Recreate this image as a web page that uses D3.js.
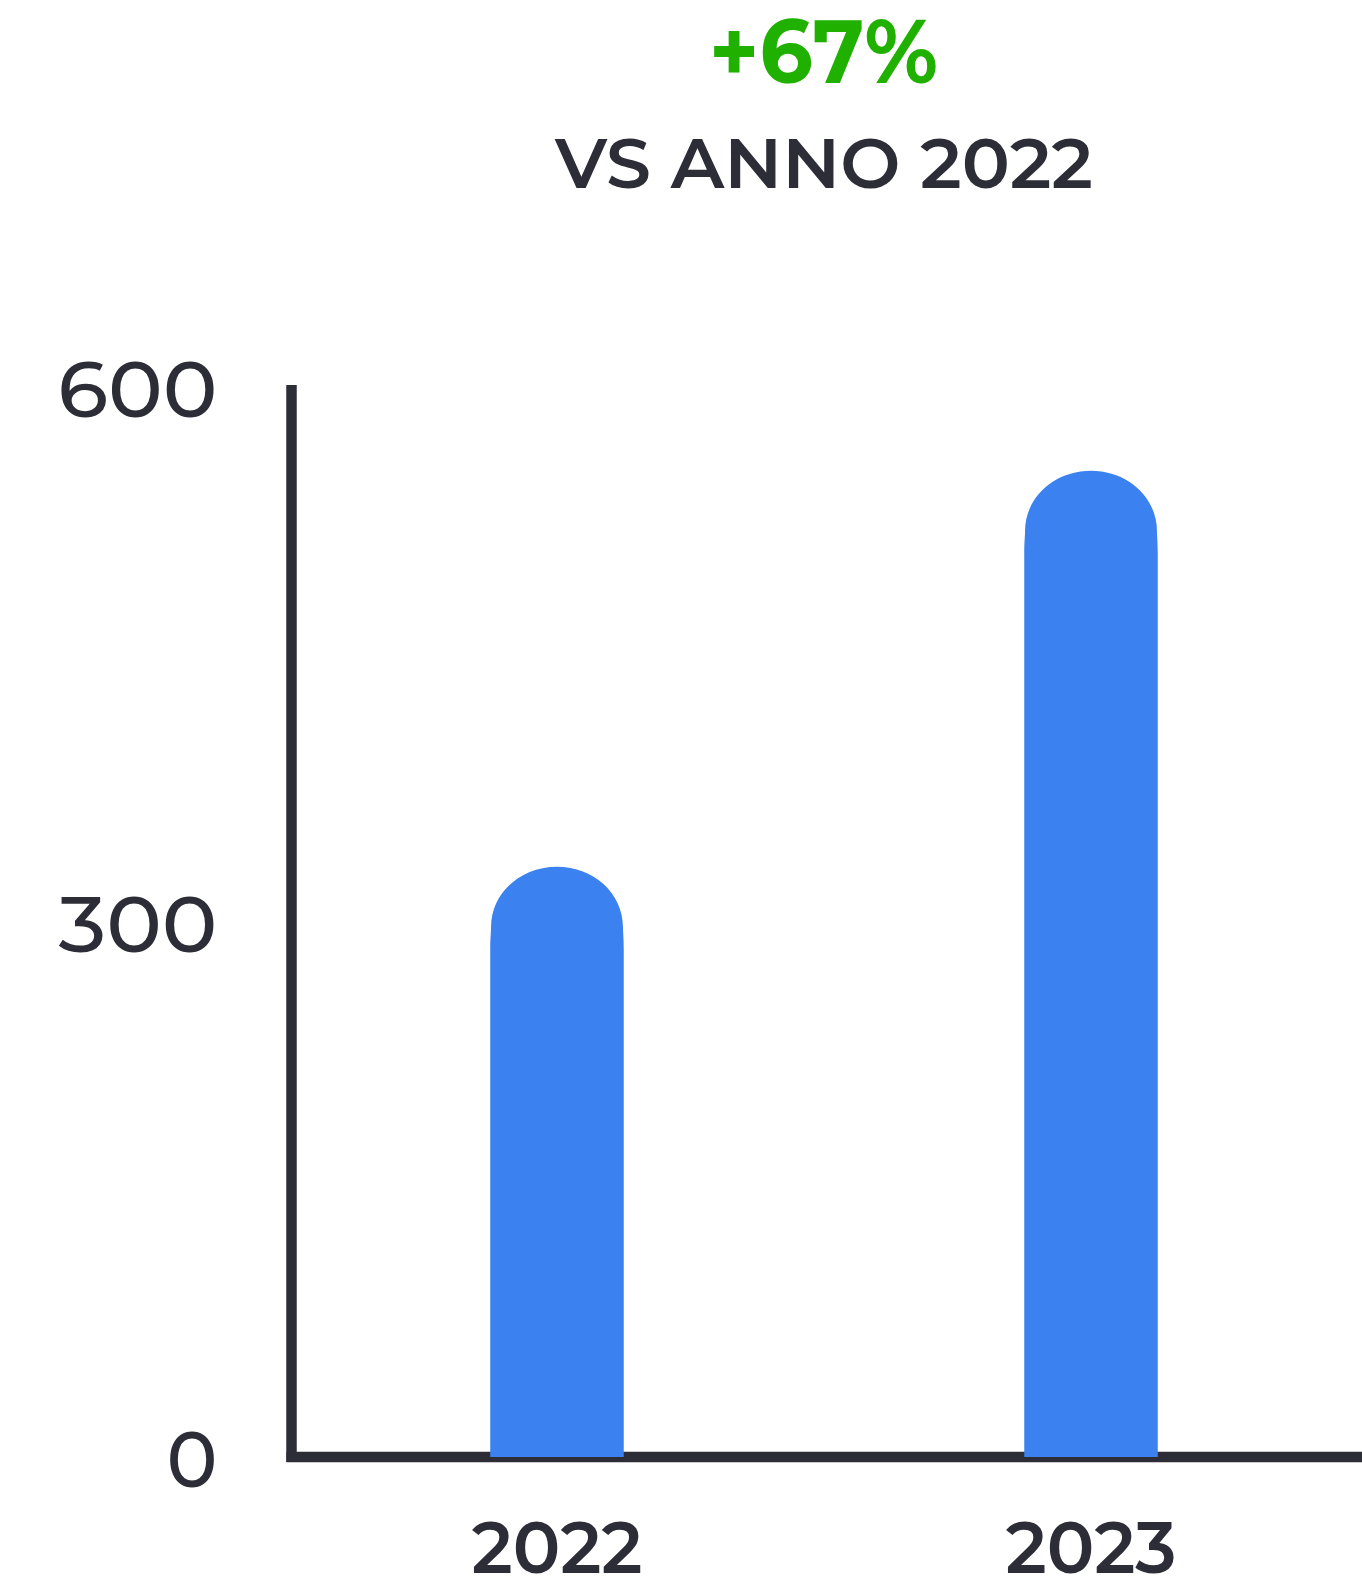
<!DOCTYPE html>
<html>
<head>
<meta charset="utf-8">
<script src="https://cdn.jsdelivr.net/npm/d3@7"></script>
<style>
  html, body { margin: 0; padding: 0; background: #ffffff; }
  svg { display: block; }
</style>
</head>
<body>
<div id="chart"></div>
<script>
// ---- data ----
const categories = ["2022", "2023"];
const values = [331, 553];
const yTicks = [0, 300, 600];
const headline = "+67%";
const subtitle = "VS ANNO 2022";

// ---- layout ----
const W = 1362, H = 1579;
const FONT = "Montserrat, Inter, 'DejaVu Sans', sans-serif";
const dark = "#2d2d37";
const blue = "#3b82f0";
const green = "#20b000";

const svg = d3.select("#chart").append("svg")
  .attr("width", W).attr("height", H);

const axisX = 291.5;
const y = d3.scaleLinear().domain([0, 600]).range([1457, 387]);
const x = d3.scaleBand().domain(categories).range([290, 1358])
  .paddingInner(0.75).paddingOuter(0.375);

// headline
svg.append("text")
  .attr("x", 823.5).attr("y", 83)
  .attr("text-anchor", "middle")
  .attr("font-family", FONT).attr("font-weight", 700)
  .attr("font-size", 90).attr("fill", green)
  .attr("textLength", 229).attr("lengthAdjust", "spacingAndGlyphs")
  .text(headline);

svg.append("text")
  .attr("x", 824).attr("y", 188)
  .attr("text-anchor", "middle")
  .attr("font-family", FONT).attr("font-weight", 600)
  .attr("font-size", 70).attr("fill", dark)
  .attr("textLength", 538).attr("lengthAdjust", "spacingAndGlyphs")
  .text(subtitle);

// y axis line
svg.append("line")
  .attr("x1", axisX).attr("x2", axisX)
  .attr("y1", y(600) - 2).attr("y2", y(0) + 5)
  .attr("stroke", dark).attr("stroke-width", 10.5);

// x axis line
svg.append("line")
  .attr("x1", axisX - 5).attr("x2", W)
  .attr("y1", y(0)).attr("y2", y(0))
  .attr("stroke", dark).attr("stroke-width", 10.5);

// y tick labels
const tickWidths = {0: 51, 300: 159, 600: 160};
svg.append("g").selectAll("text").data(yTicks).join("text")
  .attr("x", 217.5)
  .attr("y", d => y(d) + 30)
  .attr("text-anchor", "end")
  .attr("font-family", FONT).attr("font-weight", 500)
  .attr("font-size", 78).attr("fill", dark)
  .attr("textLength", d => tickWidths[d]).attr("lengthAdjust", "spacingAndGlyphs")
  .text(d => d);

// bars with rounded tops
function barPath(d, i) {
  const x0 = x(categories[i]);
  const w = x.bandwidth();
  const r = w / 2;
  const yt = y(d), yb = y(0);
  const ryc = r * 0.9;
  const yc = yt + ryc;                // widest point of the cap
  const k = 0.5523;
  const ins = 0.8;                    // slight inset of the cap
  return `M${x0},${yb} L${x0},${yc + 24}` +
    ` C${x0},${yc + 10} ${x0 + ins},${yc + 6} ${x0 + ins},${yc}` +
    ` C${x0 + ins},${yc - ryc * k} ${x0 + r - r * k},${yt} ${x0 + r},${yt}` +
    ` C${x0 + r + r * k},${yt} ${x0 + w - ins},${yc - ryc * k} ${x0 + w - ins},${yc}` +
    ` C${x0 + w - ins},${yc + 6} ${x0 + w},${yc + 10} ${x0 + w},${yc + 24}` +
    ` L${x0 + w},${yb} Z`;
}
svg.append("g").selectAll("path").data(values).join("path")
  .attr("d", barPath)
  .attr("fill", blue);

// x labels
svg.append("g").selectAll("text").data(categories).join("text")
  .attr("x", d => x(d) + x.bandwidth() / 2)
  .attr("y", 1573)
  .attr("text-anchor", "middle")
  .attr("font-family", FONT).attr("font-weight", 600)
  .attr("font-size", 72).attr("fill", dark)
  .attr("textLength", 171).attr("lengthAdjust", "spacingAndGlyphs")
  .text(d => d);
</script>
</body>
</html>
